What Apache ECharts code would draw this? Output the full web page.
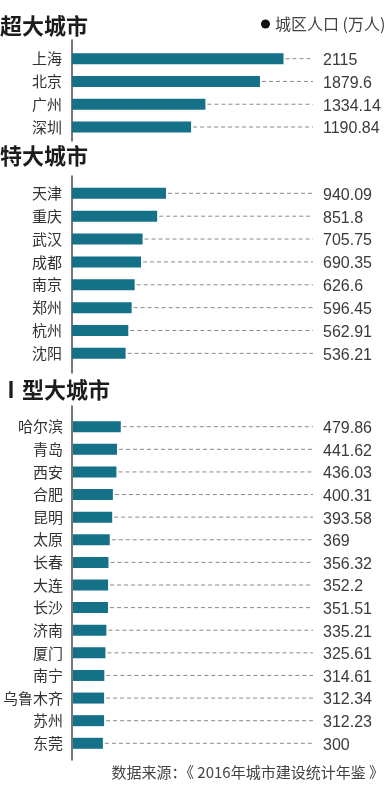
<!DOCTYPE html>
<html>
<head>
<meta charset="utf-8">
<script src="https://cdn.jsdelivr.net/npm/echarts@6/dist/echarts.min.js"></script>
<style>
html,body{margin:0;padding:0;background:#fff;}
#chart{width:388px;height:799px;}
</style>
</head>
<body>
<div id="chart"></div>
<script>
// ---- data ----
const groupTitles = ['超大城市', '特大城市', 'Ⅰ型大城市'];
const superCities = ['上海', '北京', '广州', '深圳'];
const superPop = [2115, 1879.6, 1334.14, 1190.84];
const megaCities = ['天津', '重庆', '武汉', '成都', '南京', '郑州', '杭州', '沈阳'];
const megaPop = [940.09, 851.8, 705.75, 690.35, 626.6, 596.45, 562.91, 536.21];
const bigCities = ['哈尔滨', '青岛', '西安', '合肥', '昆明', '太原', '长春', '大连', '长沙', '济南', '厦门', '南宁', '乌鲁木齐', '苏州', '东莞'];
const bigPop = [479.86, 441.62, 436.03, 400.31, 393.58, 369, 356.32, 352.2, 351.51, 335.21, 325.61, 314.61, 312.34, 312.23, 300];
const seriesName = '城区人口 (万人)';
const sourceText = '数据来源：《 2016年城市建设统计年鉴 》';

// ---- layout / style ----
const XMAX = 2410;
const BAR_COLOR = '#157188';
const CJK = '"Noto Sans CJK SC", "Noto Sans", sans-serif';
const groups = [
  { cats: superCities, vals: superPop, top: 47.3, height: 91.1, lineTop: 40, lineH: 101 },
  { cats: megaCities, vals: megaPop, top: 181.9, height: 182.9, lineTop: 176, lineH: 197 },
  { cats: bigCities, vals: bigPop, top: 415.4, height: 339.2, lineTop: 406, lineH: 354 }
];

const grids = [], xAxes = [], yAxes = [], series = [];
groups.forEach((g, gi) => {
  grids.push({ left: 72, width: 241, top: g.top, height: g.height });
  xAxes.push({ gridIndex: gi, type: 'value', min: 0, max: XMAX, show: false });
  yAxes.push({
    gridIndex: gi, type: 'category', data: g.cats, inverse: true,
    axisLine: { show: false }, axisTick: { show: false },
    axisLabel: { margin: 10, fontSize: 15, color: '#333', fontFamily: CJK }
  });
  series.push({
    name: seriesName, type: 'bar', xAxisIndex: gi, yAxisIndex: gi,
    data: g.vals, barWidth: 11, itemStyle: { color: BAR_COLOR }, silent: true
  });
  series.push({
    type: 'custom', xAxisIndex: gi, yAxisIndex: gi, silent: true,
    data: g.vals.map((v, i) => [v, i]),
    renderItem: function (params, api) {
      const v = api.value(0), idx = api.value(1);
      const s = api.coord([v, idx]);
      const e = api.coord([XMAX, idx]);
      const children = [];
      if (e[0] - s[0] > 3) {
        children.push({
          type: 'line',
          shape: { x1: s[0] + 2, y1: s[1], x2: e[0], y2: e[1] },
          style: { stroke: '#8a8a8a', lineWidth: 1, lineDash: [4, 3] }
        });
      }
      children.push({
        type: 'text',
        style: {
          x: e[0] + 10, y: e[1] + 2, text: String(v),
          fill: '#3a3a3a', fontSize: 16, fontFamily: '"Liberation Sans", Arial, sans-serif',
          verticalAlign: 'middle', align: 'left'
        }
      });
      return { type: 'group', children: children };
    }
  });
});
// axis-line-only grids (taller than the bar bands)
groups.forEach((g, gi) => {
  const k = grids.length;
  grids.push({ left: 72, width: 241, top: g.lineTop, height: g.lineH });
  xAxes.push({ gridIndex: k, type: 'value', min: 0, max: 1, show: false });
  yAxes.push({
    gridIndex: k, type: 'value', min: 0, max: 1,
    axisLine: { show: true, lineStyle: { color: '#4a4a4a', width: 1.5 } },
    axisTick: { show: false }, axisLabel: { show: false }, splitLine: { show: false }
  });
});

const titleStyle = { fontSize: 22, fontWeight: 'bold', color: '#1c1c1c', fontFamily: CJK };
const option = {
  animation: false,
  backgroundColor: '#fff',
  title: [
    { text: groupTitles[0], left: 0, top: 15, padding: 0, textStyle: titleStyle },
    { text: groupTitles[1], left: 0, top: 145, padding: 0, textStyle: titleStyle },
    { text: groupTitles[2], left: 0, top: 379, padding: 0, textStyle: titleStyle },
    { text: sourceText, right: 4, top: 765, padding: 0,
      textStyle: { fontSize: 15, fontWeight: 'normal', color: '#444', fontFamily: CJK } }
  ],
  legend: {
    data: [{ name: seriesName, icon: 'circle', itemStyle: { color: '#111' } }],
    left: 261, top: 16, padding: 0, itemWidth: 9, itemHeight: 9, itemGap: 5,
    selectedMode: false,
    textStyle: { fontSize: 16, color: '#444', fontFamily: CJK }
  },
  grid: grids,
  xAxis: xAxes,
  yAxis: yAxes,
  series: series
};
const chart = echarts.init(document.getElementById('chart'), null, { renderer: 'canvas' });
chart.setOption(option);
</script>
</body>
</html>
